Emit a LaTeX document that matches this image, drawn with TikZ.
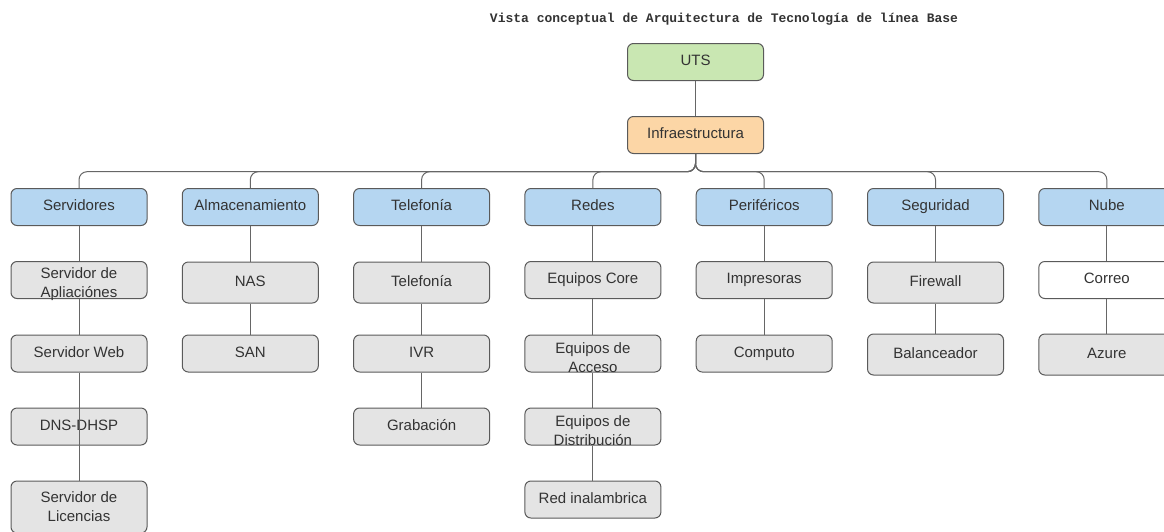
\documentclass[tikz,border=0pt]{standalone}
\usepackage{fontspec}
\setmainfont{Liberation Sans}
\newfontfamily\titlefont{Liberation Mono}
\definecolor{txt}{HTML}{333333}
\definecolor{bord}{HTML}{5A5A5A}
\definecolor{wire}{HTML}{666666}
\definecolor{blue1}{HTML}{B5D6F1}
\definecolor{green1}{HTML}{C9E7B2}
\definecolor{orange1}{HTML}{FCD6A6}
\definecolor{grey1}{HTML}{E4E4E4}
\begin{document}
\begin{tikzpicture}[x=1pt,y=-1pt,
  box/.style={draw=bord, line width=1pt, rounded corners=6pt, minimum width=136pt, minimum height=37pt, inner sep=0pt, text=txt, font=\fontsize{15}{19}\selectfont, text height=11pt, text depth=3.5pt},
  tall/.style={minimum height=41pt},
  cat/.style={box, fill=blue1},
  item/.style={box, fill=grey1},
  blank/.style={box, fill=white},
  ovr/.style={text=txt, font=\fontsize{15}{19}\selectfont, align=center, inner sep=0pt, yshift=-4.5pt},
  wireline/.style={draw=wire, line width=1pt},
  bus/.style={wireline, rounded corners=8pt}]
\useasboundingbox (0,0) rectangle (1164,531);
\node[text=txt, font=\titlefont\bfseries\fontsize{13}{15}\selectfont, anchor=base] (title) at (724,22) {Vista conceptual de Arquitectura de Tecnología de línea Base};
% top
\node[box, fill=green1] (uts) at (695.5,62) {UTS};
\node[box, fill=orange1] (infra) at (695.5,135) {Infraestructura};
% categories
\node[cat] (c1) at (79,207) {Servidores};
\node[cat] (c2) at (250.3,207) {Almacenamiento};
\node[cat] (c3) at (421.6,207) {Telefonía};
\node[cat] (c4) at (592.9,207) {Redes};
\node[cat] (c5) at (764.2,207) {Periféricos};
\node[cat] (c6) at (935.5,207) {Seguridad};
\node[cat] (c7) at (1106.8,207) {Nube};
% column 1
\node[item] (s1) at (79,280) {};
\node[ovr] (s1t) at (s1.center) {Servidor de\\Apliaciónes};
\node[item] (s2) at (79,353.5) {Servidor Web};
\node[item] (s3) at (79,426.5) {DNS-DHSP};
\node[item, minimum height=52pt] (s4) at (79,507) {};
\node[ovr, yshift=4.5pt] (s4t) at (s4.center) {Servidor de\\Licencias};
% column 2
\node[item, tall] (a1) at (250.3,282.5) {NAS};
\node[item] (a2) at (250.3,353.5) {SAN};
% column 3
\node[item, tall] (t1) at (421.6,282.5) {Telefonía};
\node[item] (t2) at (421.6,353.5) {IVR};
\node[item] (t3) at (421.6,426.5) {Grabación};
% column 4
\node[item] (r1) at (592.9,280) {Equipos Core};
\node[item] (r2) at (592.9,353.5) {};
\node[ovr] (r2t) at (r2.center) {Equipos de\\Acceso};
\node[item] (r3) at (592.9,426.5) {};
\node[ovr] (r3t) at (r3.center) {Equipos de\\Distribución};
\node[item] (r4) at (592.9,499.5) {Red inalambrica};
% column 5
\node[item] (p1) at (764.2,280) {Impresoras};
\node[item] (p2) at (764.2,353.5) {Computo};
% column 6
\node[item, tall] (g1) at (935.5,282.5) {Firewall};
\node[item, tall] (g2) at (935.5,354.5) {Balanceador};
% column 7
\node[blank] (n1) at (1106.8,280) {Correo};
\node[item, tall] (n2) at (1106.8,354.5) {Azure};
% connectors
\draw[wireline] (uts.south) -- (infra.north);
\foreach \c in {c1,c2,c3,c4,c5,c6,c7}{
  \draw[bus] (infra.south) -- (695.5,171.7) -| (\c.north);
}
\draw[wireline] (c1.south) -- (s1.north);
\draw[wireline] (s1.south) -- (s2.north);
\draw[wireline] (s2.south) -- (s4.north);
\draw[wireline] (c2.south) -- (a1.north);
\draw[wireline] (a1.south) -- (a2.north);
\draw[wireline] (c3.south) -- (t1.north);
\draw[wireline] (t1.south) -- (t2.north);
\draw[wireline] (t2.south) -- (t3.north);
\draw[wireline] (c4.south) -- (r1.north);
\draw[wireline] (r1.south) -- (r2.north);
\draw[wireline] (r2.south) -- (r3.north);
\draw[wireline] (r3.south) -- (r4.north);
\draw[wireline] (c5.south) -- (p1.north);
\draw[wireline] (p1.south) -- (p2.north);
\draw[wireline] (c6.south) -- (g1.north);
\draw[wireline] (g1.south) -- (g2.north);
\draw[wireline] (c7.south) -- (n1.north);
\draw[wireline] (n1.south) -- (n2.north);
\end{tikzpicture}
\end{document}
